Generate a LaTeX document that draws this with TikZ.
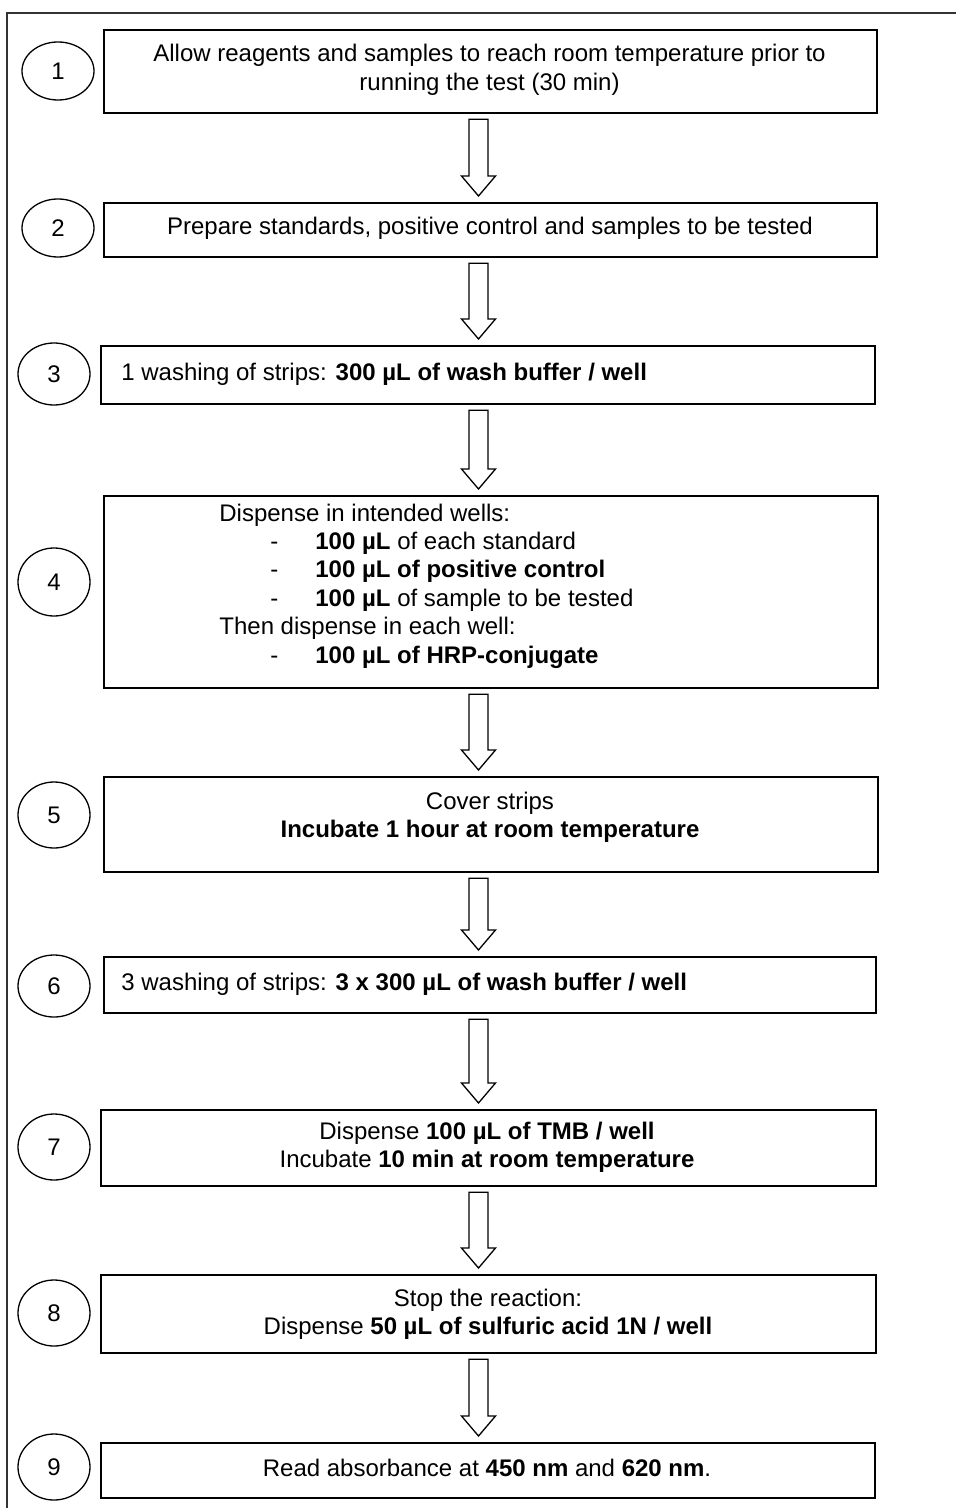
\documentclass[tikz,border=0pt]{standalone}
\usepackage{fontspec}
\setmainfont{Liberation Sans}
\usetikzlibrary{shapes.geometric,calc}
\newcommand\bul[1]{\hspace*{25.5pt}\makebox[22.5pt][l]{-}#1}
\newcommand\blockarr[2]{%
  \draw[blockarrow] let \p1=(#1.south), \p2=(#2.north) in
   ({239.25pt-4.75pt},{\y1-2.5pt}) -- ({239.25pt+4.75pt},{\y1-2.5pt})
   -- ({239.25pt+4.75pt},{\y2+13pt}) -- ({239.25pt+8.5pt},{\y2+13pt})
   -- ({239.25pt},{\y2+3pt}) -- ({239.25pt-8.5pt},{\y2+13pt})
   -- ({239.25pt-4.75pt},{\y2+13pt}) -- cycle;}
\tikzset{
  stepbox/.style={draw=black, line width=1.1pt, fill=white, inner sep=0pt, anchor=north west},
  numcirc/.style={ellipse, draw=black, line width=0.65pt, inner sep=0pt, minimum width=36pt},
  steptext/.style={inner sep=0pt, align=center, font=\fontsize{12pt}{14.2pt}\selectfont},
  lefttext/.style={inner sep=0pt, align=left, anchor=west, font=\fontsize{12pt}{14.2pt}\selectfont},
  blockarrow/.style={draw=black, line width=0.65pt, fill=white, line join=miter},
  frameline/.style={draw=black!80, line width=0.85pt}
}
\begin{document}
\begin{tikzpicture}[x=0.5pt,y=-0.5pt]
\useasboundingbox (0,0) rectangle (955,1508);
\fill[white] (0,0) rectangle (955,1508);
% outer frame (top and left edges)
\draw[frameline] (7,1510) -- (7,12.7) -- (957,12.7);

% boxes
\node[stepbox, minimum width=386.5pt, minimum height=41.5pt] (b1) at (103,29) {};
\node[stepbox, minimum width=386.5pt, minimum height=27pt] (b2) at (103,202) {};
\node[stepbox, minimum width=387pt, minimum height=29pt] (b3) at (100,345) {};
\node[stepbox, minimum width=387pt, minimum height=96pt] (b4) at (103,495) {};
\node[stepbox, minimum width=387pt, minimum height=47.5pt] (b5) at (103,776) {};
\node[stepbox, minimum width=386pt, minimum height=28pt] (b6) at (103,956) {};
\node[stepbox, minimum width=387.5pt, minimum height=38pt] (b7) at (100,1109) {};
\node[stepbox, minimum width=387.5pt, minimum height=39pt] (b8) at (100,1274) {};
\node[stepbox, minimum width=387pt, minimum height=27.5pt] (b9) at (100,1442) {};

% numbered circles
\node[numcirc, minimum height=29pt, steptext] (c1) at (58,71) {1};
\node[numcirc, minimum height=29pt, steptext] (c2) at (58,228) {2};
\node[numcirc, minimum height=31pt, steptext] (c3) at (54,374) {3};
\node[numcirc, minimum height=34pt, steptext] (c4) at (54,582) {4};
\node[numcirc, minimum height=33pt, steptext] (c5) at (54,815) {5};
\node[numcirc, minimum height=31pt, steptext] (c6) at (54,986) {6};
\node[numcirc, minimum height=33pt, steptext] (c7) at (54,1147) {7};
\node[numcirc, minimum height=33pt, steptext] (c8) at (54,1313) {8};
\node[numcirc, minimum height=33pt, steptext] (c9) at (54,1467) {9};

% texts
\node[steptext] (t1) at (489.5,70) {Allow reagents and samples to reach room temperature prior to\\running the test (30 min)};
\node[steptext] (t2) at (490,228) {Prepare standards, positive control and samples to be tested};
\node[lefttext] (t3) at (121,374) {1 washing of strips: \textbf{300 µL of wash buffer / well}};
\node[lefttext] (t4) at (219,586) {Dispense in intended wells:\\
\bul{\textbf{100 µL} of each standard}\\
\bul{\textbf{100 µL of positive control}}\\
\bul{\textbf{100 µL} of sample to be tested}\\
Then dispense in each well:\\
\bul{\textbf{100 µL of HRP-conjugate}}};
\node[steptext] (t5) at (490,817) {Cover strips\\\textbf{Incubate 1 hour at room temperature}};
\node[lefttext] (t6) at (121,984) {3 washing of strips: \textbf{3 x 300 µL of wash buffer / well}};
\node[steptext] (t7) at (487,1147) {Dispense \textbf{100 µL of TMB / well}\\Incubate \textbf{10 min at room temperature}};
\node[steptext] (t8) at (488,1314) {Stop the reaction:\\Dispense \textbf{50 µL of sulfuric acid 1N / well}};
\node[steptext] (t9) at (487,1468) {Read absorbance at \textbf{450 nm} and \textbf{620 nm}.};

% block arrows
\blockarr{b1}{b2}
\blockarr{b2}{b3}
\blockarr{b3}{b4}
\blockarr{b4}{b5}
\blockarr{b5}{b6}
\blockarr{b6}{b7}
\blockarr{b7}{b8}
\blockarr{b8}{b9}
\end{tikzpicture}
\end{document}
